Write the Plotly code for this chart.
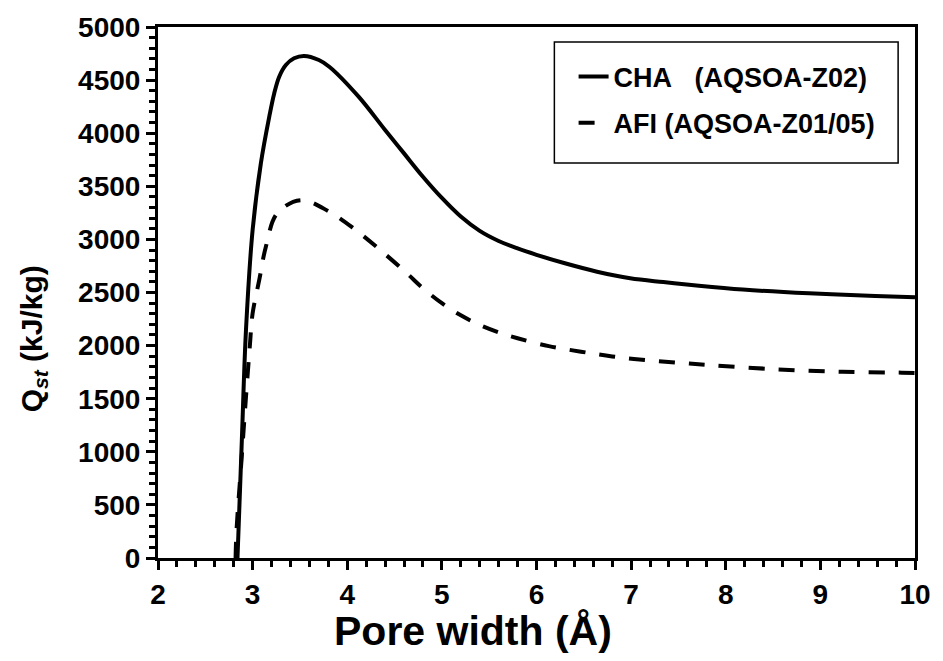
import plotly.graph_objects as go

# Pore width (Å) and isosteric heat Q_st (kJ/kg)
cha_x = [2.84, 2.886, 2.93, 3.0, 3.087, 3.176, 3.228, 3.281, 3.351, 3.438, 3.543, 3.70,
         3.81, 4.12, 4.40, 4.60, 4.80, 5.00, 5.20, 5.40, 5.60, 5.80, 6.00, 6.30, 6.64,
         6.99, 7.34, 7.69, 8.18, 8.88, 9.58, 10.0]
cha_y = [0, 1110, 2150, 3090, 3716, 4156, 4375, 4532, 4642, 4705, 4727, 4689,
         4626, 4344, 4030, 3810, 3590, 3390, 3215, 3080, 2985, 2915, 2855, 2775, 2696,
         2634, 2598, 2566, 2528, 2492, 2467, 2455]

afi_x = [2.82, 2.83, 2.88, 2.93, 2.97, 3.0, 3.07, 3.14, 3.26, 3.51, 3.81, 4.09, 4.37,
         4.63, 4.80, 5.00, 5.20, 5.40, 5.60, 5.80, 6.13, 6.47, 6.80, 7.15, 7.50, 7.83,
         8.53, 9.23, 9.86, 10.0]
afi_y = [0, 264, 892, 1519, 1990, 2304, 2618, 2931, 3246, 3370, 3261, 3088, 2884,
         2681, 2540, 2400, 2285, 2195, 2125, 2069, 1995, 1943, 1898, 1864, 1839, 1817,
         1777, 1754, 1745, 1742]

names = ["CHA\u00a0\u00a0\u00a0(AQSOA-Z02)", "AFI (AQSOA-Z01/05)"]

x_ticks = [2, 3, 4, 5, 6, 7, 8, 9, 10]
y_ticks = [0, 500, 1000, 1500, 2000, 2500, 3000, 3500, 4000, 4500, 5000]

FONT = "Liberation Sans, Arial, sans-serif"

fig = go.Figure()
fig.add_trace(go.Scatter(x=cha_x, y=cha_y, mode="lines", name=names[0], legendgroup="a",
                         line=dict(color="black", width=4, shape="spline", smoothing=1.0)))
fig.add_trace(go.Scatter(x=afi_x, y=afi_y, mode="lines", name=names[1], legendgroup="b",
                         line=dict(color="black", width=4, dash="16px,14px",
                                   shape="spline", smoothing=1.0)))

axis_common = dict(showline=True, linecolor="black", linewidth=3, mirror=True,
                   ticks="outside", ticklen=9, tickwidth=3, tickcolor="black",
                   showgrid=False, zeroline=False,
                   tickfont=dict(family=FONT, size=28, color="black", weight="bold"))

fig.update_xaxes(range=[2, 10], tickvals=x_ticks, ticktext=[str(v) for v in x_ticks],
                 minor=dict(dtick=0.2, ticks="outside", ticklen=6, tickwidth=2.5,
                            tickcolor="black", showgrid=False),
                 **axis_common)
fig.update_yaxes(range=[0, 5000], tickvals=y_ticks, ticktext=[str(v) for v in y_ticks],
                 minor=dict(dtick=100, ticks="outside", ticklen=6, tickwidth=2.5,
                            tickcolor="black", showgrid=False),
                 **axis_common)

fig.add_annotation(text="<b>Pore width (Å)</b>", xref="paper", yref="paper",
                   x=0.416, y=-0.137, xanchor="center", yanchor="middle", showarrow=False,
                   font=dict(family=FONT, size=41, color="black"))
fig.add_annotation(text="<b>Q<sub><i>st</i></sub> (kJ/kg)</b>", xref="paper", yref="paper",
                   x=-0.165, y=0.412, xanchor="center", yanchor="middle", showarrow=False,
                   textangle=-90, font=dict(family=FONT, size=30, color="black"))

# legend frame
fig.add_shape(type="rect", xref="paper", yref="paper", x0=0.5236, x1=0.9777,
              y0=0.7439, y1=0.9718, line=dict(color="black", width=1.5),
              fillcolor="white", layer="below")

fig.update_layout(
    width=943, height=661,
    margin=dict(l=158, r=23, t=27, b=103),
    plot_bgcolor="white", paper_bgcolor="white",
    showlegend=True,
    legend=dict(x=0.549, y=0.952, xanchor="left", yanchor="top",
                borderwidth=0, bgcolor="rgba(0,0,0,0)",
                font=dict(family=FONT, size=27, color="black", weight="bold"),
                tracegroupgap=8, traceorder="grouped"),
)

fig.write_html("out.html")
